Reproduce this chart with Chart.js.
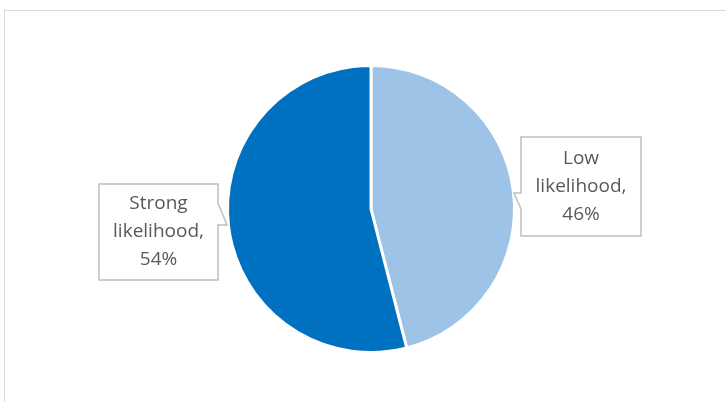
<!DOCTYPE html>
<html>
<head>
<meta charset="utf-8">
<script src="https://cdn.jsdelivr.net/npm/chart.js@4.4.1/dist/chart.umd.min.js"></script>
<style>
  html, body { margin: 0; padding: 0; background: #fff; }
  #wrap { position: relative; width: 726px; height: 402px; overflow: hidden; }
  #frame { position: absolute; left: 4px; top: 10px; width: 760px; height: 420px; border: 1px solid #d9d9d9; box-sizing: border-box; }
  canvas { position: absolute; left: 0; top: 0; }
</style>
</head>
<body>
<div id="wrap">
  <div id="frame"></div>
  <canvas id="chartLikelihood" width="726" height="402"></canvas>
</div>
<script>
const categories = ["Low likelihood", "Strong likelihood"];
const shares = [46, 54];
const sliceColors = ["#9dc3e6", "#0070c0"];

// label boxes: [left, top, right, bottom] and pointer tip, per slice
const calloutBoxes = [
  { box: [521, 137, 641, 236], side: "left", tip: [514, 193], base: [193, 209] },
  { box: [99, 184, 218, 280], side: "right", tip: [227, 225], base: [203, 225] },
];

const calloutPlugin = {
  id: "callouts",
  afterDatasetsDraw(chart) {
    const ctx = chart.ctx;
    ctx.save();
    calloutBoxes.forEach((c, i) => {
      const [l, t, r, b] = c.box;
      ctx.beginPath();
      ctx.moveTo(l, t);
      ctx.lineTo(r, t);
      if (c.side === "right") {
        ctx.lineTo(r, c.base[0]);
        ctx.lineTo(c.tip[0], c.tip[1]);
        ctx.lineTo(r, c.base[1]);
      }
      ctx.lineTo(r, b);
      ctx.lineTo(l, b);
      if (c.side === "left") {
        ctx.lineTo(l, c.base[1]);
        ctx.lineTo(c.tip[0], c.tip[1]);
        ctx.lineTo(l, c.base[0]);
      }
      ctx.closePath();
      ctx.fillStyle = "#ffffff";
      ctx.fill();
      ctx.strokeStyle = "#bfbfbf";
      ctx.lineWidth = 1.5;
      ctx.stroke();

      const words = categories[i].split(" ");
      const lines = [words[0], words.slice(1).join(" ") + ",", shares[i] + "%"];
      ctx.fillStyle = "#595959";
      ctx.font = "19px 'Open Sans', sans-serif";
      ctx.textAlign = "center";
      ctx.textBaseline = "middle";
      const cx = (l + r) / 2;
      const cy = (t + b) / 2;
      lines.forEach((txt, k) => {
        ctx.fillText(txt, cx, cy + (k - 1) * 28);
      });
    });
    ctx.restore();
  }
};

const canvas = document.getElementById("chartLikelihood");
const chart = new Chart(canvas.getContext("2d"), {
  type: "pie",
  data: {
    labels: categories,
    datasets: [{
      data: shares,
      backgroundColor: sliceColors,
      borderColor: "#ffffff",
      borderWidth: 3,
    }]
  },
  options: {
    responsive: false,
    animation: false,
    layout: { padding: { top: 64, bottom: 48, left: 16, right: 0 } },
    plugins: {
      legend: { display: false },
      tooltip: { enabled: false },
    }
  },
  plugins: [calloutPlugin]
});
</script>
</body>
</html>
